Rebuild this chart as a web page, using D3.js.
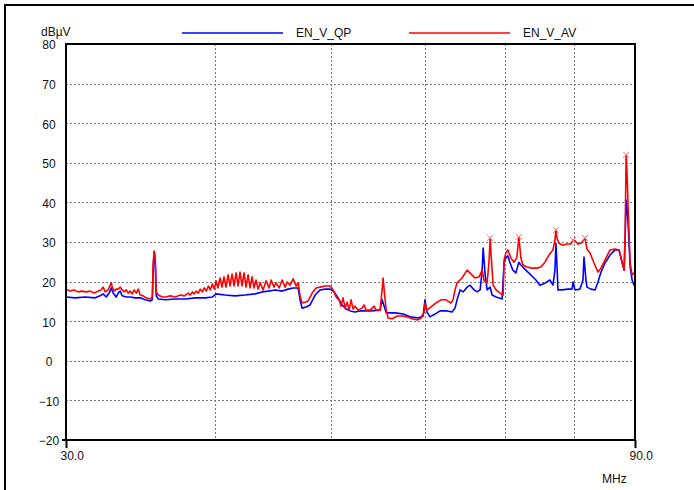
<!DOCTYPE html>
<html>
<head>
<meta charset="utf-8">
<script src="https://cdn.jsdelivr.net/npm/d3@7"></script>
<style>
  body { margin: 0; background: #fff; }
  text { font-family: "Liberation Sans", Arial, sans-serif; font-size: 12px; fill: #111; }
</style>
</head>
<body>
<script>
(function (d3) {
  'use strict';

// axis values
const xTicks = [30, 90];
const xGrid = [40, 50, 60, 70, 80];
const yTicks = [-20, -10, 0, 10, 20, 30, 40, 50, 60, 70, 80];
const seriesNames = ['EN_V_QP', 'EN_V_AV'];

// quasi-peak trace [MHz, dBuV]
const qpTrace = [
  [30.00,16.1],[30.53,15.9],[31.13,16.1],[31.74,15.9],[32.04,16.4],[32.23,16.9],[32.42,16.1],
  [32.61,17.1],[32.74,18.4],[32.86,17.1],[33.05,16.1],[33.18,17.1],[33.31,17.6],[33.44,16.4],
  [33.70,16.1],[33.96,16.1],[34.29,15.9],[34.62,15.9],[34.96,15.4],[35.30,15.1],[35.44,15.4],
  [35.50,22.9],[35.57,27.5],[35.64,24.9],[35.71,16.4],[35.85,15.6],[36.34,15.4],[37.05,15.6],
  [37.77,15.6],[38.51,15.9],[39.26,15.9],[39.79,16.1],[40.08,16.9],[40.78,16.6],[41.58,16.4],
  [42.39,16.6],[43.22,16.9],[43.81,17.4],[44.32,17.6],[44.92,17.9],[45.54,17.6],[46.06,18.1],
  [46.51,18.4],[46.96,18.4],[47.14,15.4],[47.32,13.3],[47.69,13.6],[48.06,14.1],[48.53,16.6],
  [49.00,17.9],[49.48,18.1],[49.96,18.1],[50.35,17.4],[50.73,15.9],[51.12,14.1],[51.52,13.1],
  [51.92,12.6],[52.42,12.3],[52.93,12.6],[53.97,12.6],[55.02,12.8],[55.23,15.4],[55.45,13.8],
  [55.67,12.1],[56.65,12.1],[57.53,11.8],[58.31,11.1],[59.22,10.8],[59.78,11.3],[60.00,15.4],
  [60.23,12.3],[60.58,11.1],[61.17,11.8],[61.77,12.6],[62.61,12.6],[63.21,12.3],[63.58,13.3],
  [63.83,15.4],[64.20,17.9],[64.58,17.4],[65.08,18.6],[65.46,19.1],[65.97,17.9],[66.35,17.4],
  [66.74,17.9],[67.00,22.9],[67.13,28.5],[67.39,21.7],[67.65,17.9],[68.04,18.6],[68.30,16.6],
  [68.83,16.1],[69.63,15.6],[69.90,24.9],[70.14,26.0],[70.41,26.5],[70.68,24.9],[71.09,22.9],
  [71.51,22.2],[71.92,24.9],[72.20,24.2],[72.62,23.4],[73.19,22.4],[73.75,21.4],[74.33,20.4],
  [74.90,19.1],[75.63,19.6],[76.37,20.4],[76.81,19.1],[77.11,22.9],[77.26,29.7],[77.41,24.2],
  [77.56,17.9],[78.16,17.9],[79.07,18.1],[79.69,18.1],[79.85,19.9],[80.15,17.9],[80.93,18.1],
  [81.40,20.4],[81.56,26.2],[81.87,20.4],[82.03,18.6],[82.67,18.1],[83.31,17.9],[83.80,19.9],
  [84.28,22.4],[84.94,24.7],[85.77,26.7],[86.60,28.0],[87.27,28.0],[87.79,24.9],[88.13,22.9],
  [88.30,30.5],[88.47,40.6],[88.64,38.1],[88.81,34.8],[89.16,23.7],[89.50,20.4],[89.83,19.1],
  [90.00,19.7]
];

// average trace [MHz, dBuV]
const avTrace = [
  [30.00,18.1],[30.23,17.6],[30.47,17.9],[30.71,17.4],[30.95,17.6],[31.19,17.4],[31.43,17.6],
  [31.68,17.1],[31.92,17.6],[32.11,17.9],[32.23,18.6],[32.36,17.4],[32.55,17.9],[32.67,19.1],
  [32.74,19.7],[32.80,18.6],[32.93,17.6],[33.05,18.1],[33.18,18.1],[33.31,18.6],[33.44,17.9],
  [33.57,17.4],[33.70,17.9],[33.83,17.1],[33.96,17.6],[34.09,16.9],[34.22,17.9],[34.36,17.1],
  [34.49,18.1],[34.62,16.6],[34.82,16.4],[35.03,15.9],[35.30,15.6],[35.44,16.1],[35.50,24.9],
  [35.57,27.7],[35.64,26.0],[35.71,17.4],[35.85,16.6],[36.13,16.1],[36.41,16.1],[36.69,16.4],
  [37.05,16.1],[37.41,16.6],[37.70,16.4],[37.99,17.1],[38.14,16.6],[38.29,17.4],[38.43,16.9],
  [38.58,17.6],[38.73,17.1],[38.88,18.1],[39.03,17.4],[39.18,18.4],[39.33,17.6],[39.49,18.9],
  [39.64,17.9],[39.79,19.4],[39.95,18.1],[40.08,20.2],[40.23,18.4],[40.39,20.9],[40.55,18.6],
  [40.70,21.2],[40.86,18.6],[41.02,21.7],[41.18,18.9],[41.34,21.9],[41.50,18.9],[41.66,22.2],
  [41.82,18.9],[41.98,22.4],[42.14,18.9],[42.31,22.2],[42.47,18.6],[42.64,21.7],[42.80,18.4],
  [42.97,21.2],[43.13,18.4],[43.30,20.4],[43.47,18.1],[43.64,19.7],[43.89,17.9],[44.15,20.2],
  [44.40,18.4],[44.58,20.4],[44.83,18.6],[45.01,19.7],[45.27,18.4],[45.54,20.4],[45.80,18.6],
  [45.98,19.9],[46.24,19.1],[46.51,20.7],[46.78,18.9],[46.96,19.7],[47.14,16.4],[47.32,14.6],
  [47.60,14.8],[47.88,15.1],[48.25,17.1],[48.62,18.4],[49.00,18.6],[49.48,18.9],[49.96,18.9],
  [50.25,17.9],[50.54,16.1],[50.83,15.4],[51.02,13.8],[51.22,15.9],[51.42,13.3],[51.62,14.8],
  [51.82,12.8],[52.02,15.4],[52.22,13.1],[52.42,13.8],[52.73,12.8],[53.13,13.3],[53.34,14.1],
  [53.55,12.8],[53.97,12.8],[54.39,13.8],[54.60,12.8],[55.02,12.8],[55.23,17.9],[55.34,20.9],
  [55.45,17.9],[55.67,12.8],[55.88,10.8],[56.32,10.6],[56.87,11.3],[57.42,11.3],[57.97,11.1],
  [58.54,10.6],[59.11,10.3],[59.56,10.8],[59.89,12.3],[60.00,14.6],[60.23,12.8],[60.70,13.6],
  [61.29,14.6],[61.89,15.4],[62.49,15.4],[63.09,14.6],[63.34,15.4],[63.58,17.9],[63.83,19.7],
  [64.45,20.9],[65.08,22.9],[65.59,21.9],[66.09,20.9],[66.61,21.2],[67.00,22.9],[67.26,20.2],
  [67.65,19.7],[67.91,25.5],[68.04,31.0],[68.17,26.7],[68.43,19.1],[68.83,17.9],[69.37,17.1],
  [69.77,16.6],[69.90,25.5],[70.14,27.2],[70.41,28.0],[70.82,26.0],[71.23,24.9],[71.64,26.0],
  [71.92,31.3],[72.20,26.0],[72.48,24.2],[73.04,23.7],[73.75,23.4],[74.47,23.4],[75.05,23.7],
  [75.63,24.9],[76.22,26.7],[76.81,28.0],[77.11,30.5],[77.26,33.0],[77.41,31.0],[77.71,29.7],
  [78.31,29.2],[78.92,29.5],[79.53,29.5],[79.85,30.5],[80.15,30.3],[80.62,29.5],[81.09,29.7],
  [81.72,31.0],[82.03,28.2],[82.51,27.2],[83.15,24.7],[83.80,22.4],[84.28,23.4],[84.94,25.5],
  [85.77,28.0],[86.60,28.2],[87.27,28.0],[87.79,24.7],[88.13,22.9],[88.30,32.3],[88.47,52.0],
  [88.64,46.9],[88.81,38.8],[89.16,24.7],[89.50,21.7],[90.00,22.4]
];

// peak markers on the average trace
const avPeaks = [[68.04,31.0],[71.92,31.3],[77.26,33.0],[79.85,30.5],[81.72,31.0],[88.47,52.0]];

const W = 694, H = 490;
const plot = {left: 66, right: 635, top: 44, bottom: 440};

const svg = d3.select("body")
  .append("svg")
    .attr("width", W)
    .attr("height", H);

// page border lines
svg.append("line")
  .attr("x1", 4).attr("x2", W).attr("y1", 5).attr("y2", 5)
  .attr("stroke", "#000").attr("stroke-width", 2);
svg.append("line")
  .attr("x1", 5).attr("x2", 5).attr("y1", 4).attr("y2", H)
  .attr("stroke", "#000").attr("stroke-width", 2);

const x = d3.scaleLog()
  .domain([30, 90])
  .range([plot.left, plot.right]);
const y = d3.scaleLinear()
  .domain([-20, 80])
  .range([plot.bottom, plot.top]);

// grid
svg.append("g")
  .selectAll("line")
  .data(xGrid)
  .join("line")
    .attr("x1", d => Math.round(x(d)) + 0.5).attr("x2", d => Math.round(x(d)) + 0.5)
    .attr("y1", plot.top).attr("y2", plot.bottom)
    .attr("stroke", "#777").attr("stroke-dasharray", "2,2");
svg.append("g")
  .selectAll("line")
  .data(yTicks.filter(d => d > -20 && d < 80))
  .join("line")
    .attr("x1", plot.left).attr("x2", plot.right)
    .attr("y1", d => Math.round(y(d)) + 0.5).attr("y2", d => Math.round(y(d)) + 0.5)
    .attr("stroke", "#777").attr("stroke-dasharray", "2,2");

// x axis
const xaxis = svg.append("g")
  .attr("transform", `translate(0, ${plot.bottom})`)
  .call(d3.axisBottom(x).tickValues(xTicks).tickSize(8).tickFormat(d3.format(".1f")));
xaxis.select(".domain").remove();
xaxis.selectAll("line").attr("stroke-width", 2);
xaxis.selectAll("text")
  .attr("text-anchor", "start")
  .attr("x", -6)
  .attr("y", 20)
  .attr("dy", null)
  .style("font-family", null).style("font-size", null);

// y axis
const yaxis = svg.append("g")
  .attr("transform", `translate(${plot.left}, 0)`)
  .call(d3.axisLeft(y).tickValues(yTicks).tickSize(0));
yaxis.select(".domain").remove();
yaxis.selectAll("text")
  .attr("text-anchor", "middle")
  .attr("x", -17)
  .attr("dy", "0.4em")
  .style("font-family", null).style("font-size", null);
svg.append("line")
  .attr("x1", plot.left - 4).attr("x2", plot.left)
  .attr("y1", y(-20)).attr("y2", y(-20))
  .attr("stroke", "#000").attr("stroke-width", 2);

svg.append("text").attr("x", 41).attr("y", 36).text("dBµV");
svg.append("text").attr("x", 602).attr("y", 483).text("MHz");

// traces
const line = d3.line()
  .x(d => x(d[0]))
  .y(d => y(d[1]));

svg.append("path")
  .datum(qpTrace)
  .attr("fill", "none")
  .attr("stroke", "#0000ff")
  .attr("stroke-width", 1.6)
  .attr("stroke-linejoin", "round")
  .attr("d", line);

svg.append("path")
  .datum(avTrace)
  .attr("fill", "none")
  .attr("stroke", "#ff0000")
  .attr("stroke-width", 1.6)
  .attr("stroke-linejoin", "round")
  .attr("d", line);

// x markers
const mk = svg.append("g").attr("stroke", "#ff7070").attr("stroke-width", 1);
avPeaks.forEach(function(p) {
  const cx = x(p[0]), cy = y(p[1]);
  mk.append("line").attr("x1", cx - 3).attr("x2", cx + 3).attr("y1", cy - 3).attr("y2", cy + 3);
  mk.append("line").attr("x1", cx - 3).attr("x2", cx + 3).attr("y1", cy + 3).attr("y2", cy - 3);
});

// frame
svg.append("rect")
  .attr("x", plot.left).attr("y", plot.top)
  .attr("width", plot.right - plot.left).attr("height", plot.bottom - plot.top)
  .attr("fill", "none").attr("stroke", "#000").attr("stroke-width", 2);

// legend
const legendX = [182, 409];
const legendColors = ["#0000ff", "#ff0000"];
seriesNames.forEach(function(name, i) {
  svg.append("line")
    .attr("x1", legendX[i]).attr("x2", legendX[i] + 101)
    .attr("y1", 33).attr("y2", 33)
    .attr("stroke", legendColors[i]).attr("stroke-width", 1.5);
  svg.append("text")
    .attr("x", legendX[i] + 114).attr("y", 37)
    .text(name);
});

}(d3));
</script>
</body>
</html>
